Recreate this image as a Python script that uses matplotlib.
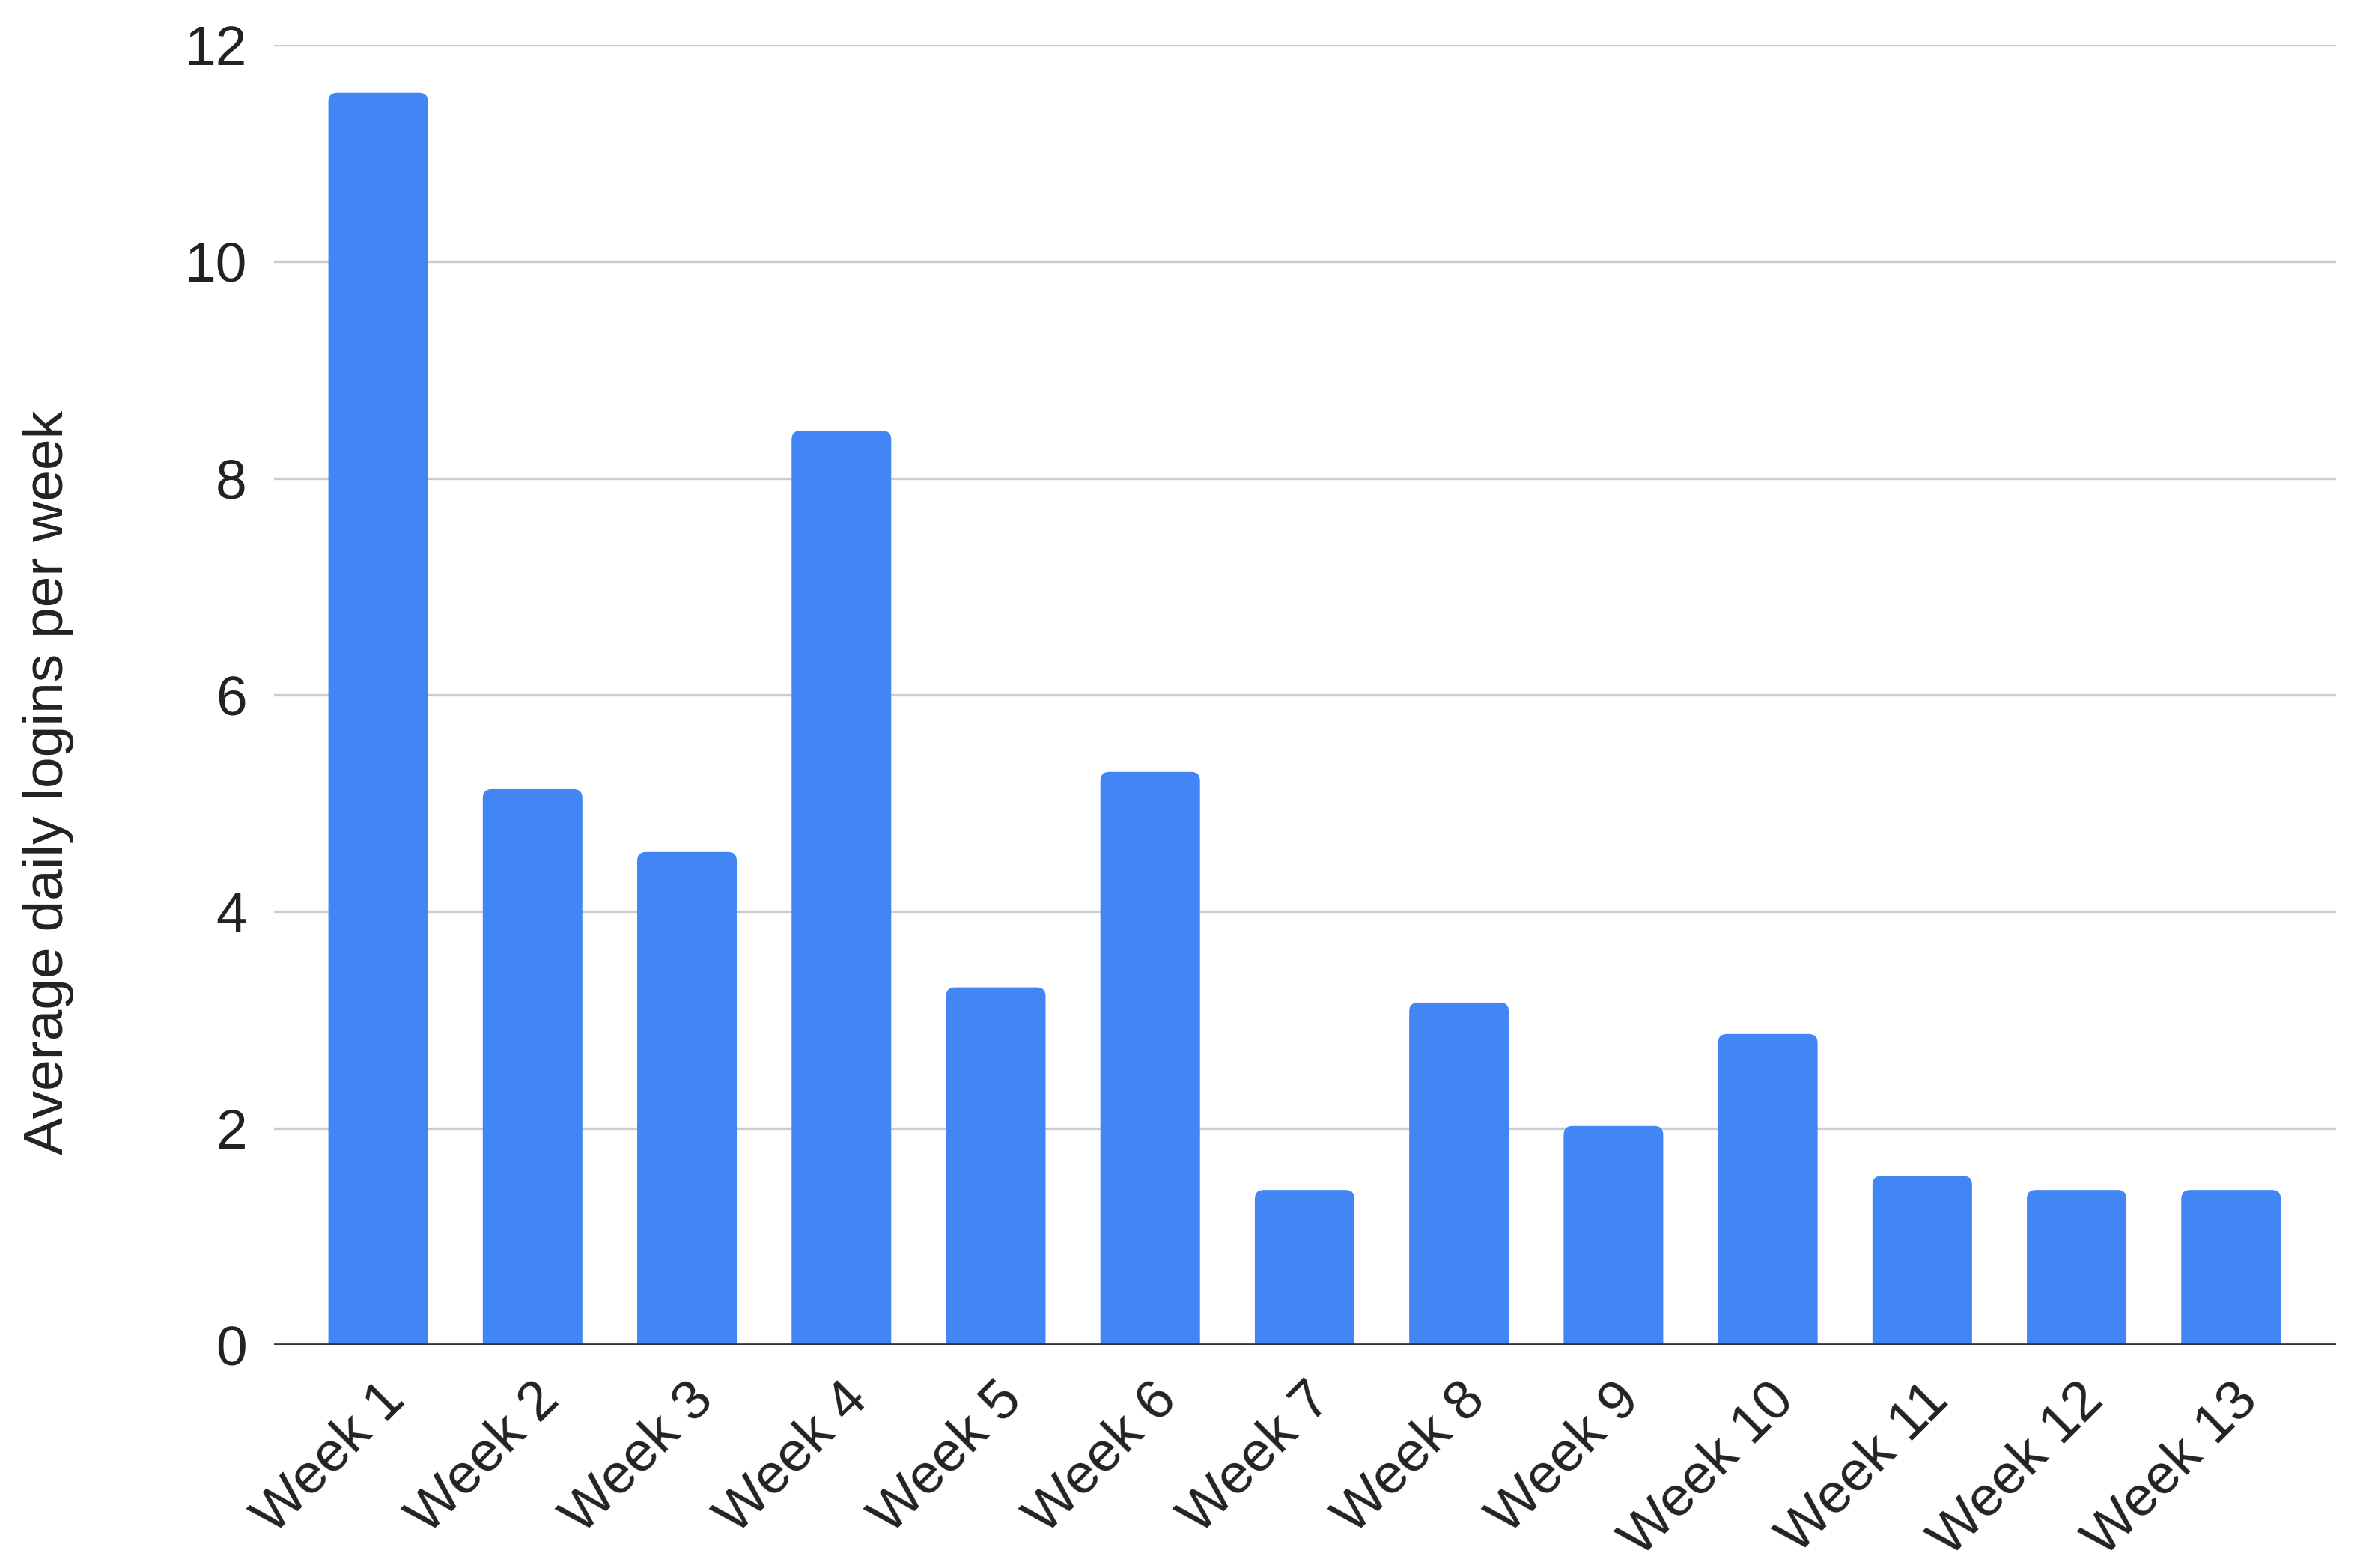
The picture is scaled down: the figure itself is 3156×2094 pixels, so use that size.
import matplotlib
matplotlib.use("Agg")
import matplotlib.pyplot as plt
import matplotlib.transforms as mtransforms
from matplotlib.patches import FancyBboxPatch

plt.rcParams['font.family'] = ['Liberation Sans', 'DejaVu Sans']

# data
weeks = [f"Week {i}" for i in range(1, 14)]
logins = [11.56, 5.13, 4.55, 8.44, 3.30, 5.29, 1.43, 3.16, 2.02, 2.87, 1.56, 1.43, 1.43]
y_ticks = [0, 2, 4, 6, 8, 10, 12]

BAR_COLOR = "#4285F4"
GRID_COLOR = "#cccccc"
TEXT_COLOR = "#222222"

fig = plt.figure(figsize=(15.78, 10.47), dpi=200)
ax = fig.add_axes([0.116, 0.1423, 0.8726, 0.829])

x = list(range(len(weeks)))
bars = ax.bar(x, logins, width=0.645, color=BAR_COLOR, zorder=3)

# swap plain bars for ones with slightly rounded top corners
for b in bars:
    b.set_visible(False)
    rounded = FancyBboxPatch((b.get_x(), -0.3), b.get_width(), b.get_height() + 0.3,
                             boxstyle="round,pad=0,rounding_size=0.058",
                             mutation_aspect=1.42, facecolor=BAR_COLOR,
                             edgecolor="none", zorder=3, clip_on=True)
    ax.add_patch(rounded)

ax.set_xlim(-0.674, len(weeks) - 1 + 0.68)
ax.set_ylim(0, 12)
ax.set_yticks(y_ticks)
ax.set_yticklabels([str(t) for t in y_ticks])
ax.yaxis.grid(True, color=GRID_COLOR, linewidth=1.2, zorder=0)
ax.set_axisbelow(True)
ax.axhline(0, color="#333333", linewidth=1.7, zorder=4)

for side in ["top", "right", "left", "bottom"]:
    ax.spines[side].set_visible(False)

ax.tick_params(axis="y", length=0, pad=13, labelsize=27, labelcolor=TEXT_COLOR)
ax.tick_params(axis="x", length=0, pad=8, labelsize=27, labelcolor=TEXT_COLOR)

ax.set_xticks(x)
ax.set_xticklabels(weeks, rotation=45, ha="right", va="center", rotation_mode="anchor")
offset = mtransforms.ScaledTranslation(0.12, -0.2, fig.dpi_scale_trans)
for lbl in ax.get_xticklabels():
    lbl.set_transform(lbl.get_transform() + offset)

fig.text(0.0205, 0.501, "Average daily logins per week", rotation=90,
         ha="center", va="center", fontsize=27, color=TEXT_COLOR)

fig.savefig("out.png", dpi=200, facecolor="white")
